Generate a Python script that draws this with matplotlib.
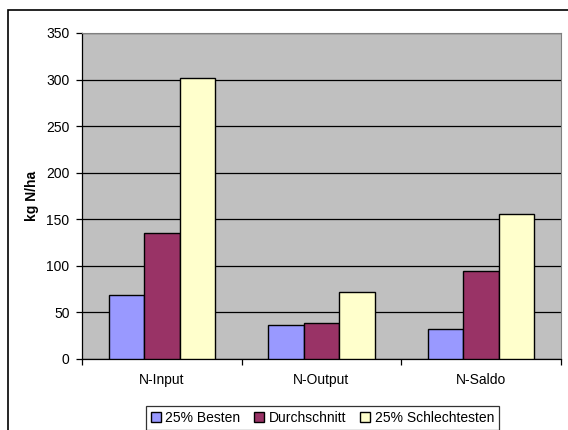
import numpy as np
import matplotlib.pyplot as plt
from matplotlib.patches import Rectangle

plt.rcParams["font.family"] = ["Liberation Sans", "DejaVu Sans"]

categories = ["N-Input", "N-Output", "N-Saldo"]
series_names = ["25% Besten", "Durchschnitt", "25% Schlechtesten"]
besten = [69, 37, 32]
durchschnitt = [135, 39, 95]
schlechtesten = [302, 72, 156]
colors = ["#9999FF", "#993366", "#FFFFCC"]
y_ticks = [0, 50, 100, 150, 200, 250, 300, 350]


def main():
    fig = plt.figure(figsize=(5.68, 4.30), dpi=100)
    ax = fig.add_axes([82 / 568, 1 - 359 / 430, 479 / 568, 326 / 430])

    # outer chart frame, partly running off the canvas
    fig.patches.append(Rectangle((8 / 568, -0.2), 1.2, 1 - 9.5 / 430 + 0.2,
                                 transform=fig.transFigure, fill=False,
                                 edgecolor="black", linewidth=1.2, clip_on=False))

    ax.set_facecolor("#C0C0C0")
    ax.set_axisbelow(True)
    ax.yaxis.grid(True, color="black", linewidth=0.9)

    x = np.arange(len(categories))
    width = 1 / 4.5
    for i, (vals, name) in enumerate(zip([besten, durchschnitt, schlechtesten], series_names)):
        ax.bar(x + (i - 1) * width, vals, width, color=colors[i], edgecolor="black",
               linewidth=1.0, label=name, zorder=3)

    ax.set_xlim(-0.5, len(categories) - 0.5)
    ax.set_ylim(0, 350)
    ax.set_yticks(y_ticks)
    ax.tick_params(axis="y", labelsize=10, length=4, pad=5, width=0.9)

    # category boundaries get the tick marks, category centres the labels
    ax.set_xticks(np.arange(len(categories) + 1) - 0.5)
    ax.set_xticklabels([])
    ax.set_xticks(x, minor=True)
    ax.set_xticklabels(categories, minor=True)
    ax.tick_params(axis="x", which="major", length=4, width=0.9)
    ax.tick_params(axis="x", which="minor", length=0, labelsize=10, pad=10)

    for side in ["top", "right"]:
        ax.spines[side].set_color("#808080")
    for side in ["left", "bottom"]:
        ax.spines[side].set_color("black")
        ax.spines[side].set_linewidth(0.9)

    fig.text(32 / 568, 1 - 196 / 430, "kg N/ha", rotation=90, fontsize=10,
             fontweight="bold", ha="center", va="center")

    leg = fig.legend(loc="upper left", bbox_to_anchor=(146 / 568, 1 - 406 / 430),
                     ncol=3, fontsize=10, frameon=True, fancybox=False,
                     handlelength=0.7, handleheight=0.7, handletextpad=0.35,
                     columnspacing=1.0, borderpad=0.35, borderaxespad=0)
    leg.get_frame().set_edgecolor("black")
    leg.get_frame().set_linewidth(0.9)

    fig.savefig("out.png", dpi=100)


if __name__ == "__main__":
    main()
